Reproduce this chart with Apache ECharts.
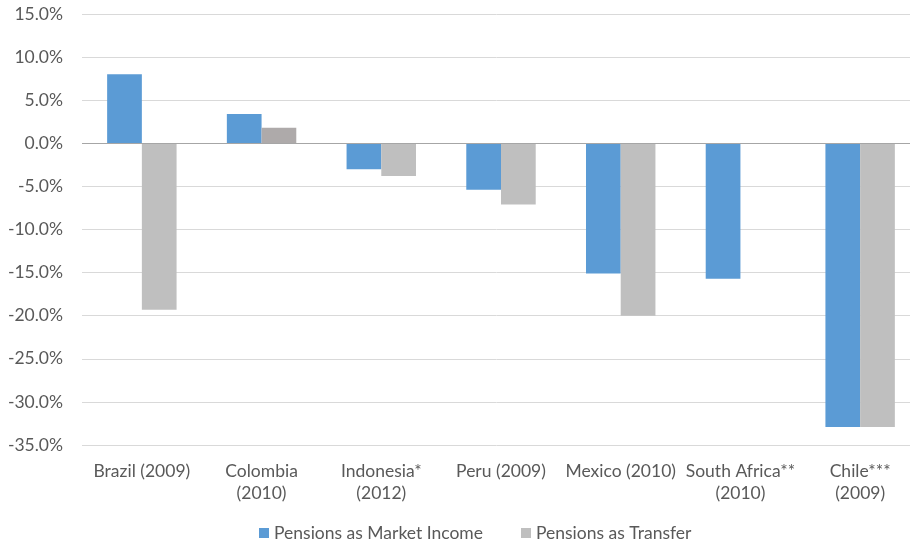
<!DOCTYPE html>
<html>
<head>
<meta charset="utf-8">
<script src="https://cdn.jsdelivr.net/npm/echarts@6/dist/echarts.min.js"></script>
<style>
  html, body { margin: 0; padding: 0; background: #fff; }
  #chart { width: 910px; height: 546px; }
</style>
</head>
<body>
<div id="chart"></div>
<script>
var categories = ['Brazil (2009)', 'Colombia\n(2010)', 'Indonesia*\n(2012)', 'Peru (2009)',
    'Mexico (2010)', 'South Africa**\n(2010)', 'Chile***\n(2009)'];
var marketIncome = [8.0, 3.4, -3.0, -5.4, -15.1, -15.7, -32.9];
var transfer = [-19.3, 1.8, -3.8, -7.1, -20.0, null, -32.9];

var font = 'Lato, "Open Sans", sans-serif';
var chart = echarts.init(document.getElementById('chart'));

// Colombia's transfer bar is a darker grey in the original
var transferData = transfer.map(function (v, i) {
    if (i === 1) return { value: v, itemStyle: { color: '#aeaaaa' } };
    return v;
});

var option = {
    animation: false,
    textStyle: { fontFamily: font },
    grid: { left: 82, width: 838, top: 14, bottom: 101, outerBoundsMode: 'none' },
    legend: {
        bottom: -1,
        left: 254,
        itemWidth: 10,
        itemHeight: 10,
        itemGap: 38,
        icon: 'rect',
        textStyle: { fontFamily: font, fontSize: 17.5, color: '#595959' },
        data: ['Pensions as Market Income', 'Pensions as Transfer']
    },
    xAxis: {
        type: 'category',
        data: categories,
        axisLine: { show: false, onZero: false },
        axisTick: { show: false },
        axisLabel: {
            interval: 0,
            margin: 15,
            lineHeight: 22,
            fontFamily: font,
            fontSize: 17.5,
            color: '#595959'
        }
    },
    yAxis: {
        type: 'value',
        min: -35,
        max: 15,
        interval: 5,
        axisLine: { show: false },
        axisTick: { show: false },
        axisLabel: {
            margin: 19,
            fontFamily: font,
            fontSize: 17.5,
            color: '#595959',
            formatter: function (v) { return v.toFixed(1) + '%'; }
        },
        splitLine: { lineStyle: { color: '#d9d9d9', width: 1 } }
    },
    series: [
        {
            name: 'Pensions as Market Income',
            type: 'bar',
            data: marketIncome,
            barGap: '0%',
            barCategoryGap: '42%',
            itemStyle: { color: '#5b9bd5' },
            markLine: {
                silent: true,
                symbol: 'none',
                label: { show: false },
                lineStyle: { color: '#a6a6a6', type: 'solid', width: 1 },
                data: [{ yAxis: 0 }]
            }
        },
        {
            name: 'Pensions as Transfer',
            type: 'bar',
            data: transferData,
            barGap: '0%',
            barCategoryGap: '42%',
            itemStyle: { color: '#bfbfbf' }
        }
    ]
};
chart.setOption(option);
window.onresize = function () { chart.resize(); };
</script>
</body>
</html>
